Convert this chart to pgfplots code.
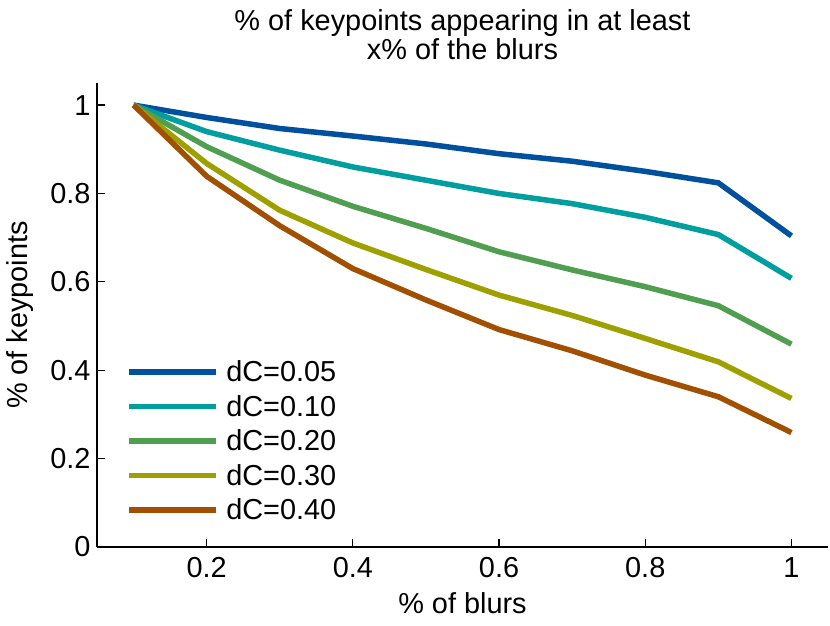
\documentclass[border=0pt]{standalone}
\usepackage{pgfplots}
\pgfplotsset{compat=1.18}
\usepackage{fontspec}
\setmainfont{Liberation Sans}
\definecolor{c1}{RGB}{0,80,158}
\definecolor{c2}{RGB}{0,158,158}
\definecolor{c3}{RGB}{80,158,80}
\definecolor{c4}{RGB}{158,160,0}
\definecolor{c5}{RGB}{160,80,0}
\begin{document}
\begin{tikzpicture}
\begin{axis}[
  scale only axis, width=731bp, height=464bp,
  xmin=0.05, xmax=1.05, ymin=0, ymax=1.05,
  axis lines*=left,
  axis line style={line width=1.2bp},
  tick style={line width=1.2bp, black},
  tick align=inside, major tick length=8bp,
  xtick={0.2,0.4,0.6,0.8,1}, ytick={0,0.2,0.4,0.6,0.8,1},
  xticklabels={0.2,0.4,0.6,0.8,1}, yticklabels={0,0.2,0.4,0.6,0.8,1},
  tick label style={font=\fontsize{29}{32}\selectfont},
  xticklabel style={yshift=-7bp},
  yticklabel style={xshift=-3bp},
  /pgf/number format/assume math mode=true,
  title={\% of keypoints appearing in at least\\x\% of the blurs},
  title style={align=center, font=\fontsize{29}{29}\selectfont, yshift=14bp},
  xlabel={\% of blurs}, ylabel={\% of keypoints},
  label style={font=\fontsize{29}{32}\selectfont},
  xlabel style={yshift=-8bp}, ylabel style={yshift=10bp},
  legend style={at={(0.035,0.41)}, anchor=north west, draw=none, fill=none,
    font=\fontsize{29}{32}\selectfont, row sep=8bp},
  legend cell align=left,
  legend image code/.code={\draw[#1] (0bp,0bp) -- (87bp,0bp); \path (93bp,0bp);},
  every axis plot/.append style={line width=5.5bp},
]
\addplot[c1] coordinates {(0.1,1.0) (0.2,0.972) (0.3,0.947) (0.4,0.930) (0.5,0.912) (0.6,0.890) (0.7,0.873) (0.8,0.850) (0.9,0.824) (1.0,0.704)};
\addplot[c2] coordinates {(0.1,1.0) (0.2,0.940) (0.3,0.898) (0.4,0.860) (0.5,0.830) (0.6,0.800) (0.7,0.777) (0.8,0.746) (0.9,0.707) (1.0,0.608)};
\addplot[c3] coordinates {(0.1,1.0) (0.2,0.906) (0.3,0.830) (0.4,0.771) (0.5,0.721) (0.6,0.668) (0.7,0.627) (0.8,0.589) (0.9,0.546) (1.0,0.459)};
\addplot[c4] coordinates {(0.1,1.0) (0.2,0.868) (0.3,0.762) (0.4,0.688) (0.5,0.628) (0.6,0.570) (0.7,0.524) (0.8,0.472) (0.9,0.419) (1.0,0.336)};
\addplot[c5] coordinates {(0.1,1.0) (0.2,0.839) (0.3,0.727) (0.4,0.630) (0.5,0.559) (0.6,0.492) (0.7,0.444) (0.8,0.389) (0.9,0.340) (1.0,0.259)};
\legend{dC=0.05,dC=0.10,dC=0.20,dC=0.30,dC=0.40}
\end{axis}
\path[use as bounding box] (-97bp,-79bp) rectangle (733bp,547bp);
\end{tikzpicture}
\end{document}
